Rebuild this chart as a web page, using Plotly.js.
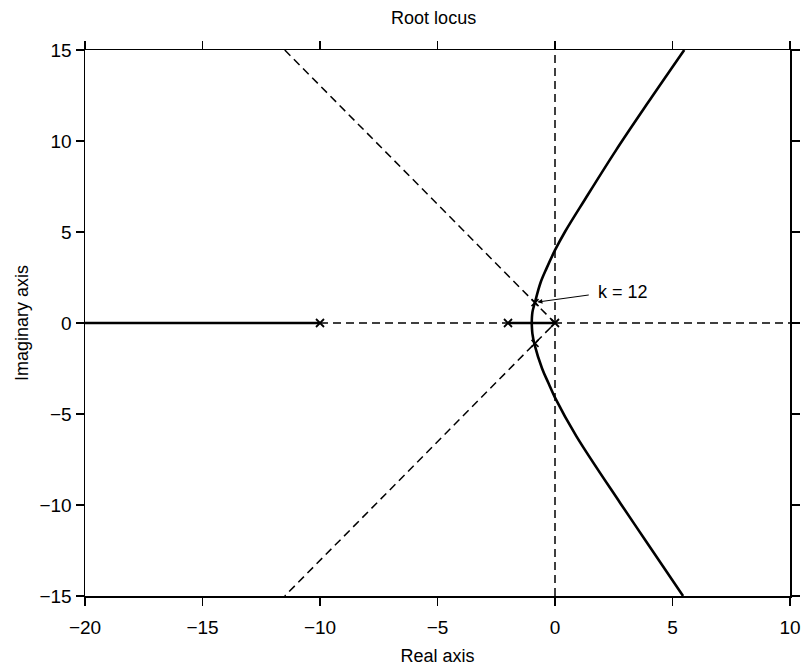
<!DOCTYPE html>
<html>
<head>
<meta charset="utf-8">
<script src="https://cdn.plot.ly/plotly-3.0.1.min.js"></script>
<style>html,body{margin:0;padding:0;background:#fff;}#chart{width:803px;height:669px;}</style>
</head>
<body>
<div id="chart"></div>
<script>
// Open-loop poles
const poleX = [-10, -2, 0];
const poleY = [0, 0, 0];
// Closed-loop roots at k = 12
const k12X = [-0.85, -0.85];
const k12Y = [1.12, -1.12];
// Root locus branches
const upperX = [-0.99, -0.96, -0.86, -0.62, -0.36, 0, 0.42, 1.28, 2.6, 3.9, 5.5];
const upperY = [0, 0.6, 1.1, 2.2, 3.0, 4.0, 5.0, 6.8, 9.5, 12, 15];
const lowerX = [-0.99, -0.96, -0.87, -0.55, -0.28, 0, 0.9, 2.78, 3.88, 5.45];
const lowerY = [0, -0.6, -1.19, -2.5, -3.3, -4.1, -6.2, -9.9, -12, -15];
// Real-axis locus segments
const realSeg1X = [-20, -10];
const realSeg2X = [-2, 0];
const realSegY = [0, 0];
// Damping-ratio lines through the origin
const zetaX = [-11.5, 0, -11.5];
const zetaY = [15, 0, -15];
// Dashed axes
const hAxisX = [-10, 10], hAxisY = [0, 0];
const vAxisX = [0, 0], vAxisY = [-15, 15];
// Tick values
const xTicks = [-20, -15, -10, -5, 0, 5, 10];
const yTicks = [-15, -10, -5, 0, 5, 10, 15];

const dashStyle = {color: 'black', width: 1.5, dash: '8px,5px'};
const solid = {color: 'black', width: 2.6};

const traces = [
  {x: hAxisX, y: hAxisY, mode: 'lines', line: dashStyle},
  {x: vAxisX, y: vAxisY, mode: 'lines', line: dashStyle},
  {x: zetaX, y: zetaY, mode: 'lines', line: dashStyle},
  {x: realSeg1X, y: realSegY, mode: 'lines', line: solid},
  {x: realSeg2X, y: realSegY, mode: 'lines', line: solid},
  {x: upperX, y: upperY, mode: 'lines', line: Object.assign({shape: 'spline', smoothing: 1}, solid)},
  {x: lowerX, y: lowerY, mode: 'lines', line: Object.assign({shape: 'spline', smoothing: 1}, solid)},
  {x: poleX, y: poleY, mode: 'markers', marker: {symbol: 'x-thin', size: 8, line: {color: 'black', width: 1.8}}},
  {x: k12X, y: k12Y, mode: 'markers', marker: {symbol: 'x-thin', size: 7, line: {color: 'black', width: 1.5}}}
];

const fam = 'Liberation Sans, Arial, Helvetica, sans-serif';
const axisFont = {family: fam, size: 18, color: 'black'};
const tickFont = {family: fam, size: 19, color: 'black'};
const common = {
  showgrid: false, zeroline: false, showline: true, linecolor: 'black', linewidth: 1.5,
  mirror: 'ticks', ticks: 'outside', ticklen: 8, tickwidth: 1.3, tickcolor: 'black',
  tickfont: tickFont
};

const layout = {
  width: 803, height: 669,
  margin: {l: 85, r: 13, t: 50, b: 73},
  paper_bgcolor: 'white', plot_bgcolor: 'white',
  showlegend: false,
  font: axisFont,
  title: {text: 'Root locus', font: axisFont, x: 0.54, xanchor: 'center', y: 0.983, yanchor: 'top'},
  xaxis: Object.assign({}, common, {range: [-20, 10], tickvals: xTicks, ticklabelstandoff: 6,
    title: {text: 'Real axis', font: axisFont, standoff: 12}}),
  yaxis: Object.assign({}, common, {range: [-15, 15], tickvals: yTicks,
    title: {text: 'Imaginary axis', font: axisFont, standoff: 6}}),
  annotations: [
    {x: -0.75, y: 1.15, xref: 'x', yref: 'y', ax: 1.5, ay: 1.55, axref: 'x', ayref: 'y',
     showarrow: true, arrowhead: 2, arrowsize: 1, arrowwidth: 1, arrowcolor: 'black', text: ''},
    {x: 1.75, y: 1.72, xref: 'x', yref: 'y', text: 'k = 12', showarrow: false, xanchor: 'left',
     font: axisFont}
  ]
};

Plotly.newPlot('chart', traces, layout, {displayModeBar: false, staticPlot: true});
</script>
</body>
</html>
